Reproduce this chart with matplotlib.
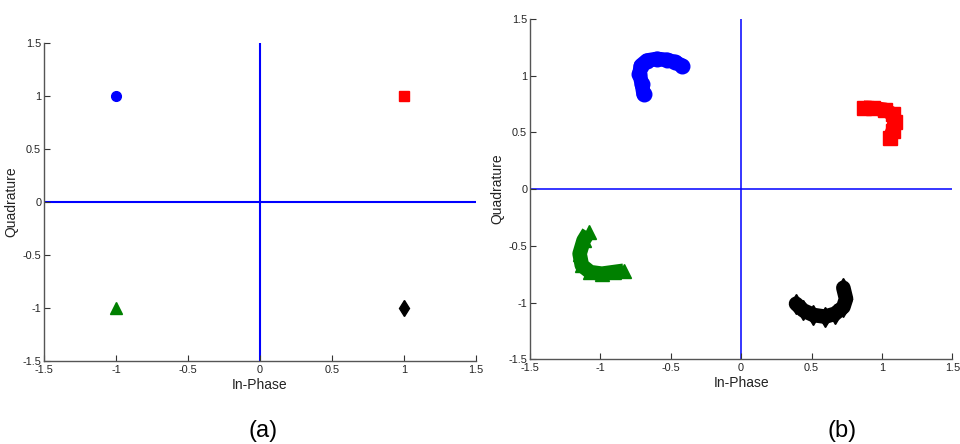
import matplotlib
matplotlib.use('Agg')
import matplotlib.pyplot as plt

# (a) ideal constellation
ideal_i = [1, -1, -1, 1]
ideal_q = [1, 1, -1, -1]
ideal_colors = ['#ff0000', '#0000ff', '#008000', 'black']
ideal_markers = ['s', 'o', '^', 'd']
ideal_sizes = [7, 7, 9, 8.5]

# (b) distorted constellation, points read along each arc
blue_i = [-0.693, -0.705, -0.722, -0.712, -0.670, -0.599, -0.528, -0.468, -0.421]
blue_q = [0.840, 0.929, 1.017, 1.090, 1.134, 1.149, 1.140, 1.120, 1.090]
red_i = [0.870, 0.939, 1.022, 1.078, 1.090, 1.078, 1.058]
red_q = [0.718, 0.714, 0.700, 0.660, 0.591, 0.517, 0.455]
green_i = [-1.083, -1.119, -1.147, -1.131, -1.072, -0.989, -0.906, -0.835]
green_q = [-0.380, -0.453, -0.570, -0.673, -0.732, -0.746, -0.732, -0.720]
black_i = [0.390, 0.442, 0.513, 0.596, 0.667, 0.726, 0.745, 0.726]
black_q = [-1.011, -1.070, -1.110, -1.125, -1.099, -1.040, -0.967, -0.870]

ticks = [-1.5, -1, -0.5, 0, 0.5, 1, 1.5]
tick_labels = ['-1.5', '-1', '-0.5', '0', '0.5', '1', '1.5']

plt.rcParams['font.family'] = ['Liberation Sans', 'DejaVu Sans']

fig = plt.figure(figsize=(9.6, 4.44), dpi=100)
ax_a = fig.add_axes([0.0458, 0.187, 0.45, 0.716])
ax_b = fig.add_axes([0.552, 0.191, 0.440, 0.766])


def style_axes(ax, lw):
    ax.set_xlim(-1.5, 1.5)
    ax.set_ylim(-1.5, 1.5)
    ax.axhline(0, color='#0000ff', lw=lw, zorder=1)
    ax.plot([0, 0], [-1.5, 1.5], color='#0000ff', lw=lw, zorder=1)
    for side in ['top', 'right']:
        ax.spines[side].set_visible(False)
    for side in ['left', 'bottom']:
        ax.spines[side].set_color('#555555')
        ax.spines[side].set_linewidth(1.0)
    ax.set_xticks(ticks)
    ax.set_xticklabels(tick_labels)
    ax.set_yticks(ticks)
    ax.set_yticklabels(tick_labels)
    ax.tick_params(direction='in', length=4, width=0.8, color='#333333',
                   labelsize=7.8, labelcolor='#222222')
    ax.tick_params(axis='x', pad=3)
    ax.tick_params(axis='y', pad=2)
    ax.set_xlabel('In-Phase', fontsize=10, labelpad=2, color='#222222')
    ax.set_ylabel('Quadrature', fontsize=10, labelpad=3, color='#222222')


style_axes(ax_a, 1.5)
for x, y, c, m, s in zip(ideal_i, ideal_q, ideal_colors, ideal_markers, ideal_sizes):
    ax_a.plot(x, y, marker=m, color=c, ms=s, linestyle='none', zorder=3)

style_axes(ax_b, 1.1)
arcs = [
    (blue_i, blue_q, '#0000ff', 'o', 'round'),
    (red_i, red_q, '#ff0000', 's', 'butt'),
    (green_i, green_q, '#008000', '^', 'butt'),
    (black_i, black_q, 'black', 'd', 'round'),
]
for xs, ys, c, m, cap in arcs:
    ax_b.plot(xs, ys, color=c, lw=10.5, solid_capstyle=cap,
              solid_joinstyle='round', zorder=3)
    ax_b.plot(xs, ys, marker=m, color=c, ms=10.5, linestyle='none', zorder=3)

fig.text(0.274, 0.004, '(a)', fontsize=17, ha='center', va='bottom')
fig.text(0.877, 0.004, '(b)', fontsize=17, ha='center', va='bottom')

fig.savefig('out.png', dpi=100)
